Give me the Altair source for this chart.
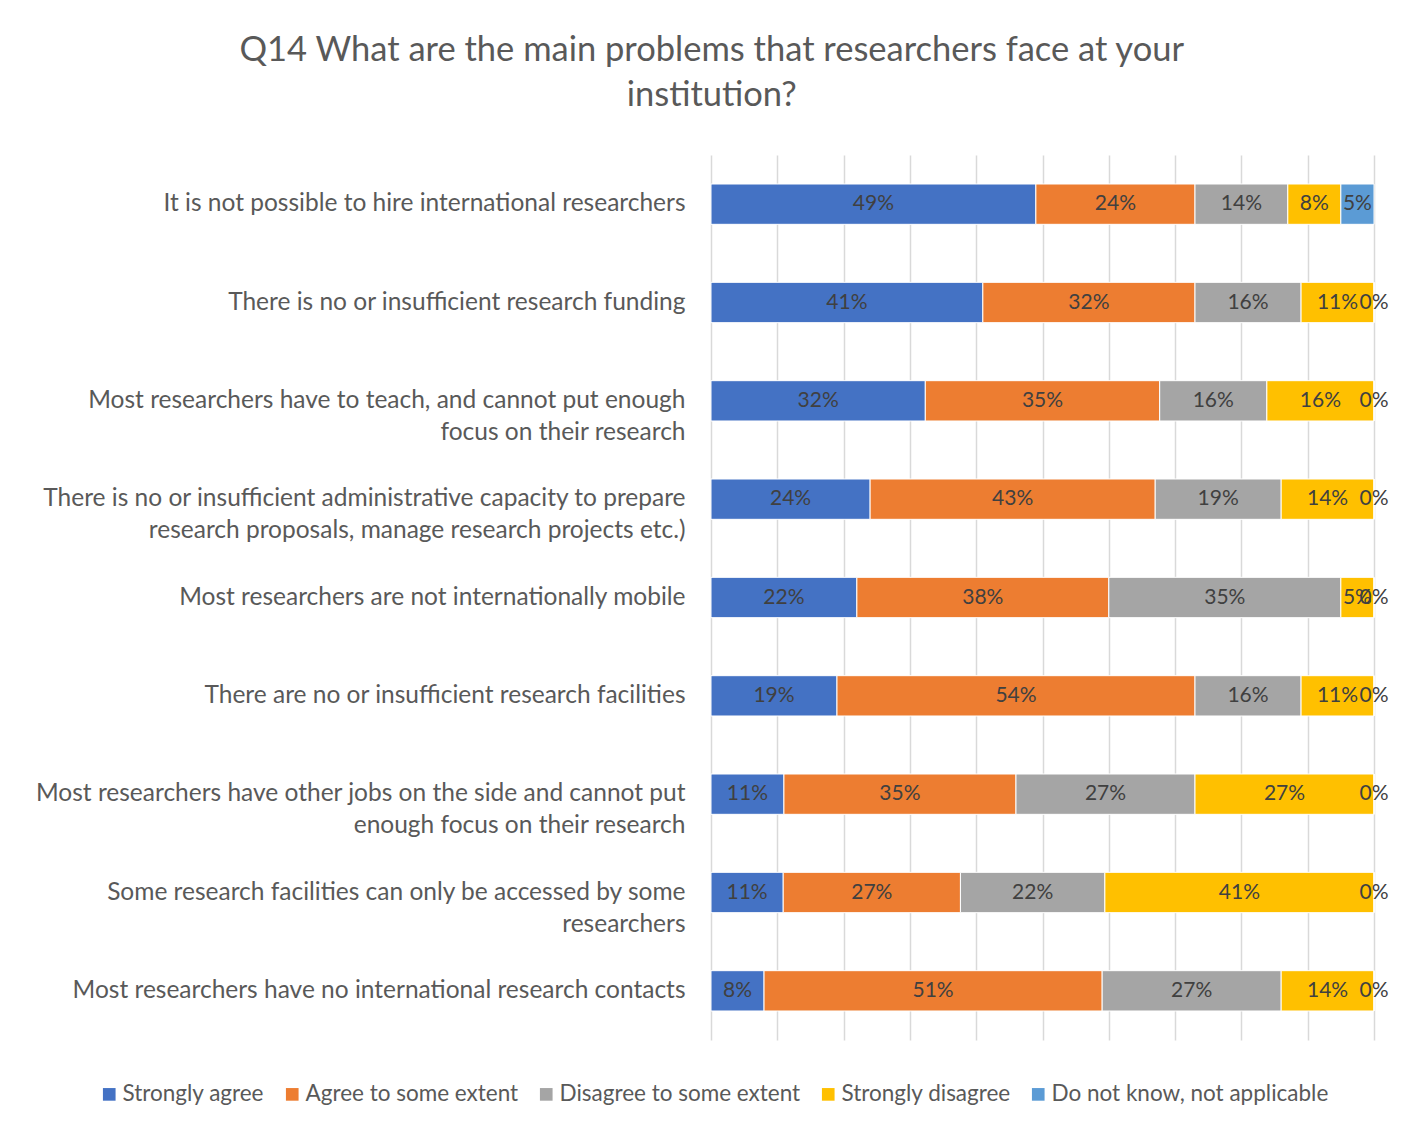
import altair as alt
import pandas as pd

categories = [
    "It is not possible to hire international researchers",
    "There is no or insufficient research funding",
    "Most researchers have to teach, and cannot put enough|focus on their research",
    "There is no or insufficient administrative capacity to prepare|research proposals, manage research projects etc.)",
    "Most researchers are not internationally mobile",
    "There are no or insufficient research facilities",
    "Most researchers have other jobs on the side and cannot put|enough focus on their research",
    "Some research facilities can only be accessed by some|researchers",
    "Most researchers have no international research contacts",
]
series = [
    "Strongly agree",
    "Agree to some extent",
    "Disagree to some extent",
    "Strongly disagree",
    "Do not know, not applicable",
]
strongly_agree = [49, 41, 32, 24, 22, 19, 11, 11, 8]
agree_some = [24, 32, 35, 43, 38, 54, 35, 27, 51]
disagree_some = [14, 16, 16, 19, 35, 16, 27, 22, 27]
strongly_disagree = [8, 11, 16, 14, 5, 11, 27, 41, 14]
dont_know = [5, 0, 0, 0, 0, 0, 0, 0, 0]
colors = ["#4472C4", "#ED7D31", "#A5A5A5", "#FFC000", "#5B9BD5"]

FONT = "Lato"

all_vals = [strongly_agree, agree_some, disagree_some, strongly_disagree, dont_know]
rows = []
for i, c in enumerate(categories):
    for j, s in enumerate(series):
        rows.append({"category": c, "series": s, "order": j, "value": all_vals[j][i]})
df = pd.DataFrame(rows)

base = alt.Chart(df).transform_stack(
    stack="value",
    groupby=["category"],
    as_=["v0", "v1"],
    offset="normalize",
    sort=[alt.SortField(field="order", order="ascending")],
).transform_calculate(
    mid="(datum.v0 + datum.v1) / 2",
    label="datum.value + '%'",
)

y_enc = alt.Y(
    "category:N",
    sort=categories,
    title=None,
    scale=alt.Scale(paddingInner=0.59, paddingOuter=0.295),
    axis=alt.Axis(
        labelExpr="split(datum.label, '|')",
        labelFont=FONT,
        labelFontSize=24.5,
        labelColor="#595959",
        labelLineHeight=32,
        labelPadding=26,
        labelLimit=900,
        domain=False,
        ticks=False,
    ),
)

bars = base.mark_bar(stroke="white", strokeWidth=1).encode(
    x=alt.X(
        "v0:Q",
        scale=alt.Scale(domain=[0, 1], nice=False),
        axis=alt.Axis(
            values=[i / 10 for i in range(11)],
            labels=False,
            ticks=False,
            domain=False,
            grid=True,
            gridColor="#D9D9D9",
            gridWidth=1.5,
            title=None,
        ),
    ),
    x2="v1:Q",
    y=y_enc,
    color=alt.Color(
        "series:N",
        sort=series,
        scale=alt.Scale(domain=series, range=colors),
        legend=alt.Legend(
            title=None,
            orient="none",
            direction="horizontal",
            legendX=-613,
            legendY=928,
            symbolType="square",
            symbolSize=160,
            symbolStrokeWidth=0,
            labelFont=FONT,
            labelFontSize=22.5,
            labelColor="#595959",
            labelLimit=0,
            columnPadding=16,
            labelOffset=2,
        ),
    ),
)

text = base.mark_text(font=FONT, fontSize=21, color="#404040").encode(
    x="mid:Q",
    y=alt.Y("category:N", sort=categories),
    text="label:N",
)

chart = (
    alt.layer(bars, text)
    .properties(
        width=663,
        height=885,
        autosize=alt.AutoSizeParams(type="none"),
        padding={"left": 703, "top": 147, "right": 26, "bottom": 76},
        title=alt.TitleParams(
            ["Q14 What are the main problems that researchers face at your", "institution?"],
            font=FONT,
            fontSize=34.5,
            fontWeight="normal",
            color="#595959",
            anchor="middle",
            frame="bounds",
            offset=42,
            lineHeight=45,
        ),
    )
    .configure_view(stroke=None)
)

chart.save("out.html", embed_options={"renderer": "svg", "actions": False})
